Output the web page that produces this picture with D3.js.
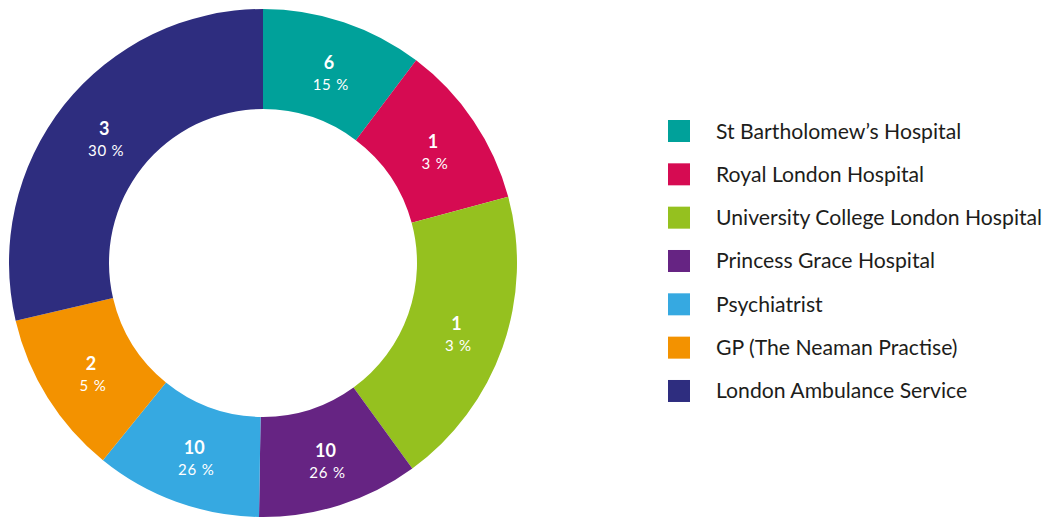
<!DOCTYPE html>
<html>
<head>
<meta charset="utf-8">
<script src="https://cdn.jsdelivr.net/npm/d3@7"></script>
<style>
	body { margin: 0; background: #fff; }
	text { font-family: "Lato", "Noto Sans", sans-serif; }
</style>
</head>
<body>
<div id="chart"></div>
<script>
var width = 1047;
var height = 518;

// categories in the order drawn clockwise from 12 o'clock
var categories = [
	"St Bartholomew\u2019s Hospital",
	"Royal London Hospital",
	"University College London Hospital",
	"Princess Grace Hospital",
	"Psychiatrist",
	"GP (The Neaman Practise)",
	"London Ambulance Service"
];
// share of the ring each slice takes
var shares = [10.3, 10.5, 19.2, 10.25, 10.6, 10.5, 28.65];
// labels printed on the slices
var counts = [6, 1, 1, 10, 10, 2, 3];
var percents = [15, 3, 3, 26, 26, 5, 30];
var colors = ["#00a19a", "#d60b52", "#95c11f", "#662483", "#36a9e1", "#f39200", "#2e2d7f"];

var cx = 263, cy = 263;
var outerR = 254, innerR = 154;

var svg = d3.select("#chart").append("svg")
	.attr("width", width)
	.attr("height", height);

var data = categories.map(function(c, i) {
	return {name: c, share: shares[i], count: counts[i], pct: percents[i], color: colors[i]};
});

var pie = d3.pie()
	.sort(null)
	.value(function(d) { return d.share; });

var arc = d3.arc()
	.innerRadius(innerR)
	.outerRadius(outerR);

var g = svg.append("g")
	.attr("transform", "translate(" + cx + "," + cy + ")");

var slices = g.selectAll("g.slice")
	.data(pie(data))
	.enter()
	.append("g")
	.attr("class", "slice");

slices.append("path")
	.attr("d", arc)
	.attr("fill", function(d) { return d.data.color; });

slices.append("text")
	.attr("x", function(d) { return arc.centroid(d)[0] + 1; })
	.attr("y", function(d) { return arc.centroid(d)[1] - 1; })
	.attr("text-anchor", "middle")
	.attr("fill", "#fff")
	.attr("font-size", 18)
	.attr("font-weight", "bold")
	.text(function(d) { return d.data.count; });

slices.append("text")
	.attr("x", function(d) { return arc.centroid(d)[0] + 3; })
	.attr("y", function(d) { return arc.centroid(d)[1] + 20; })
	.attr("text-anchor", "middle")
	.attr("fill", "#fff")
	.attr("font-size", 15)
	.attr("letter-spacing", 0.8)
	.text(function(d) { return d.data.pct + " %"; });

// legend
var legend = svg.append("g")
	.attr("transform", "translate(668,120)");

var rows = legend.selectAll("g")
	.data(data)
	.enter()
	.append("g")
	.attr("transform", function(d, i) { return "translate(0," + (i * 43.33) + ")"; });

rows.append("rect")
	.attr("width", 22)
	.attr("height", 22)
	.attr("fill", function(d) { return d.color; });

rows.append("text")
	.attr("x", 48)
	.attr("y", 18.5)
	.attr("fill", "#1d1d1b")
	.attr("font-size", 21.2)
	.text(function(d) { return d.name; });
</script>
</body>
</html>
